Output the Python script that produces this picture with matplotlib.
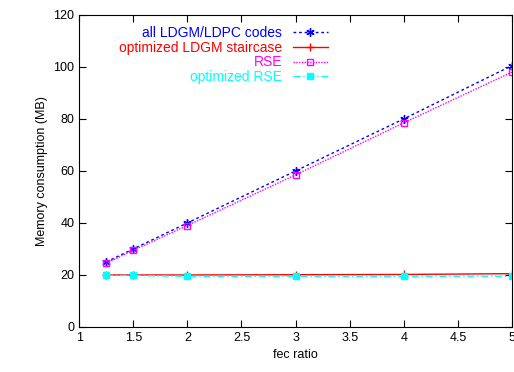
import matplotlib.pyplot as plt

plt.rcParams["font.family"] = ["Liberation Sans", "DejaVu Sans"]

fec_ratio = [1.25, 1.5, 2, 3, 4, 5]
ldgm_ldpc = [25, 30, 40, 60, 80, 100.5]
ldgm_staircase = [20, 20, 20, 20.1, 20.2, 20.5]
rse = [24.5, 29.5, 39, 58.5, 78.5, 98]
opt_rse = [19.8, 19.8, 19.5, 19.5, 19.5, 19.5]

fig = plt.figure(figsize=(5.14, 3.72), dpi=100)
ax = fig.add_axes([0.154, 0.121, 0.842, 0.839])

ax.plot(fec_ratio, ldgm_ldpc, color="#0000ff", linestyle=(0, (2, 2)), linewidth=1,
        marker=(6, 2, 0), markersize=6, label="all LDGM/LDPC codes")
ax.plot(fec_ratio, ldgm_staircase, color="#ff0000", linestyle="-", linewidth=1,
        marker="+", markersize=6, label="optimized LDGM staircase")
ax.plot(fec_ratio, rse, color="#ff00ff", linestyle=(0, (1, 1)), linewidth=1,
        marker="s", markersize=5, fillstyle="none", label="RSE")
ax.plot(fec_ratio, opt_rse, color="#00ffff", linestyle=(0, (5, 2, 1, 2)), linewidth=1,
        marker="s", markersize=5, label="optimized RSE")

ax.set_xlim(1, 5)
ax.set_ylim(0, 120)
ax.set_xticks([1, 1.5, 2, 2.5, 3, 3.5, 4, 4.5, 5])
ax.set_xticklabels(["1", "1.5", "2", "2.5", "3", "3.5", "4", "4.5", "5"])
ax.set_yticks([0, 20, 40, 60, 80, 100, 120])
ax.tick_params(direction="in", top=True, right=True, length=5, labelsize=9)
ax.set_xlabel("fec ratio", fontsize=9)
ax.set_ylabel("Memory consumption (MB)", fontsize=9)

ax.legend(loc="upper right", bbox_to_anchor=(0.6, 1.0), markerfirst=False,
          frameon=False, labelcolor="linecolor", fontsize=10, handlelength=2.5,
          borderpad=0.3, labelspacing=0.05, handletextpad=0.8)

fig.savefig("out.png")
